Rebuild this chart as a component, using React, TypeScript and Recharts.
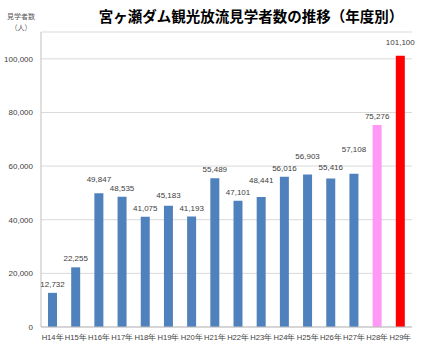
import React from "react";
import { BarChart, Bar, XAxis, YAxis, CartesianGrid, Cell, LabelList } from "recharts";

const categories = ["H14年", "H15年", "H16年", "H17年", "H18年", "H19年", "H20年", "H21年", "H22年", "H23年", "H24年", "H25年", "H26年", "H27年", "H28年", "H29年"];
const visitors = [12732, 22255, 49847, 48535, 41075, 45183, 41193, 55489, 47101, 48441, 56016, 56903, 55416, 57108, 75276, 101100];
const barColors = ["#4F81BD", "#4F81BD", "#4F81BD", "#4F81BD", "#4F81BD", "#4F81BD", "#4F81BD", "#4F81BD", "#4F81BD", "#4F81BD", "#4F81BD", "#4F81BD", "#4F81BD", "#4F81BD", "#FF99F5", "#FF0000"];
const yTicks = [0, 20000, 40000, 60000, 80000, 100000];
// extra lift (px) of some data labels, as placed in the original
const labelLift = [0, 0, 5, 0, 0, 2, 0, 0, 0, 8, 0, 9, 2, 16, 0, 5];

const data = categories.map((c, i) => ({ name: c, value: visitors[i] }));

const FONT = "'Liberation Sans', Arial, sans-serif";

const fmt = (v: number) => v.toLocaleString("en-US");

const renderLabel = (props: any) => {
  const { x, y, width, value, index } = props;
  const lift = labelLift[index] || 0;
  return (
    <text x={x + width / 2} y={y - 6 - lift} textAnchor="middle" fontSize={8} fill="#404040" fontFamily={FONT}>
      {fmt(value)}
    </text>
  );
};

export default function App() {
  return (
    <div style={{ position: "absolute", left: 0, top: 0, width: 428, height: 354, background: "#fff" }}>
      <div style={{ position: "absolute", left: 0, top: 5, width: 502, textAlign: "center", fontFamily: "'Noto Sans CJK JP', sans-serif", fontWeight: 700, fontSize: 14.5, color: "#000", lineHeight: "22px" }}>
        宮ヶ瀬ダム観光放流見学者数の推移（年度別）
      </div>
      <div style={{ position: "absolute", left: 6, top: 11, fontFamily: "'Noto Sans CJK JP', sans-serif", fontSize: 7, color: "#595959", lineHeight: "11px", textAlign: "center", width: 30 }}>
        見学者数
        <br />（人）
      </div>
      <BarChart width={428} height={354} data={data} margin={{ top: 32, right: 16, left: 0, bottom: 7 }} barCategoryGap={0}>
        <CartesianGrid vertical={false} stroke="#D9D9D9" />
        <XAxis
          dataKey="name"
          interval={0}
          tickLine={false}
          axisLine={{ stroke: "#BFBFBF" }}
          height={20}
          tick={{ fontSize: 7.6, fill: "#404040", fontFamily: FONT }}
        />
        <YAxis
          width={41}
          domain={[0, 110000]}
          ticks={yTicks}
          tickFormatter={fmt}
          tickLine={false}
          axisLine={{ stroke: "#BFBFBF" }}
          tick={{ fontSize: 8, fill: "#404040", fontFamily: FONT }}
        />
        <Bar dataKey="value" barSize={9} isAnimationActive={false}>
          {data.map((d, i) => (
            <Cell key={d.name} fill={barColors[i]} />
          ))}
          <LabelList dataKey="value" content={renderLabel} />
        </Bar>
      </BarChart>
    </div>
  );
}
